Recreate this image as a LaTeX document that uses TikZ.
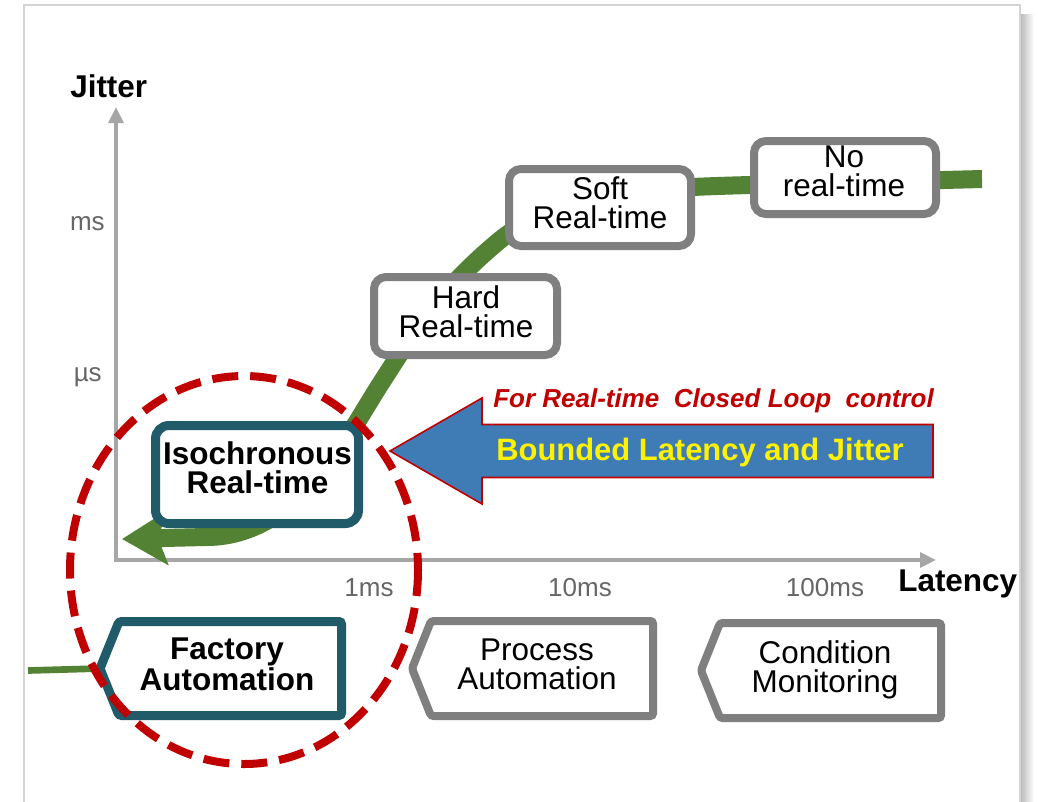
\documentclass[tikz,border=0pt]{standalone}
\usepackage{fontspec}
\setmainfont{Liberation Sans}
\usetikzlibrary{arrows.meta,calc}

\definecolor{curvegreen}{HTML}{548235}
\definecolor{tealdark}{HTML}{215A69}
\definecolor{boxgray}{HTML}{7F7F7F}
\definecolor{axisgray}{HTML}{A6A6A6}
\definecolor{ringred}{HTML}{C00000}
\definecolor{arrowblue}{HTML}{3F7CB6}
\definecolor{ticktext}{HTML}{666666}
\definecolor{framegray}{HTML}{D4D4D4}

\newcommand\stagefont{\fontsize{23.6pt}{21.8pt}\selectfont}
\newcommand\tickfont{\fontsize{19.5pt}{22pt}\selectfont}

\begin{document}
\begin{tikzpicture}[x=0.75pt,y=-0.75pt]
\tikzset{
  stagebox/.style={draw=boxgray, line width=6pt, rounded corners=9pt, fill=white, inner sep=0pt},
  isobox/.style={draw=tealdark, line width=6.75pt, rounded corners=10pt, fill=white, inner sep=0pt},
  stagetext/.style={align=center, inner sep=0pt, font=\stagefont},
  strongtext/.style={align=center, inner sep=0pt, font=\stagefont\bfseries},
  domaingray/.style={draw=boxgray, line width=6pt, rounded corners=2pt, fill=white},
  domainteal/.style={draw=tealdark, line width=6.75pt, rounded corners=2pt, fill=white},
  axisline/.style={draw=axisgray, line width=3pt, -{Triangle[length=12pt,width=11pt]}},
  axistitle/.style={inner sep=0pt, font=\fontsize{23.6pt}{26pt}\selectfont\bfseries},
  ticklabel/.style={inner sep=0pt, text=ticktext, font=\tickfont},
  curve/.style={draw=curvegreen, line width=13.5pt, -{Stealth[length=34pt,width=40pt,inset=7pt]}},
  ring/.style={draw=ringred, line width=6pt, dash pattern=on 19.5pt off 9pt},
  bigarrow/.style={fill=arrowblue, draw=ringred, line width=1.2pt, line join=miter}
}

\useasboundingbox (0,0) rectangle (1038,801);
\clip (0,0) rectangle (1038,801);
\fill[white] (0,0) rectangle (1038,801);

% slide frame with a soft shadow on its right side
\shade[left color=black!28, right color=white] (1020,14) rectangle (1034,801);
\draw[framegray, line width=1.2pt, fill=white] (24,5) rectangle (1020,830);

% axes
\coordinate (origin) at (116,561);
\coordinate (ytip) at (116,107);
\coordinate (xtip) at (936,560);
\draw[axisline] (116,562) -- (ytip);
\draw[axisline] (114,560) -- (xtip);

\node[axistitle, anchor=base west] (jitter) at (70,97) {Jitter};
\node[axistitle, anchor=base west] (latency) at (898,591) {Latency};
\node[ticklabel, anchor=base east] (tms) at (105,230) {ms};
\node[ticklabel, anchor=base east] (tus) at (102,381) {µs};
\node[ticklabel, anchor=base] (t1) at (369,596) {1ms};
\node[ticklabel, anchor=base] (t10) at (580,596) {10ms};
\node[ticklabel, anchor=base] (t100) at (825,596) {100ms};

% green trend curve running under the stage boxes
\coordinate (gstart) at (982,179);
\coordinate (gtip) at (122,539);
\draw[curve] (gstart) -- (750,185)
   .. controls (640,188) and (560,192) .. (500,240)
   .. controls (440,290) and (415,330) .. (383,380)
   .. controls (350,430) and (300,538) .. (205,537) -- (gtip);

% stage boxes
\node[stagebox, minimum width=136.5pt, minimum height=54.75pt] (nobox) at (845,177.5) {};
\node[stagetext] (notext) at (844,171) {No\\real-time};
\node[stagebox, minimum width=136.5pt, minimum height=57.75pt] (softbox) at (600,207.5) {};
\node[stagetext] (softtext) at (600,203) {Soft\\Real-time};
\node[stagebox, minimum width=137.25pt, minimum height=58.5pt] (hardbox) at (465.5,316) {};
\node[stagetext] (hardtext) at (466,312) {Hard\\Real-time};
\node[isobox, minimum width=152.25pt, minimum height=73.5pt] (isobox) at (257,474.5) {};
\node[strongtext] (isotext) at (257.5,468) {Isochronous\\Real-time};

% application domains
\coordinate (fatip) at (100,668.5);
\draw[curvegreen, line width=5pt] (28,670.5) -- (fatip);
\draw[domainteal] (fatip) -- (119,621.5) -- (341.5,621.5) -- (341.5,715.5) -- (119,715.5) -- cycle;
\node[strongtext] (fa) at (227,664) {Factory\\Automation};
\draw[domaingray] (412,668.5) -- (431,621) -- (653,621) -- (653,716) -- (431,716) -- cycle;
\node[stagetext] (pa) at (537,664) {Process\\Automation};
\draw[domaingray] (701,670.5) -- (720,623) -- (941,623) -- (941,718) -- (720,718) -- cycle;
\node[stagetext] (cm) at (825,669.5) {Condition\\Monitoring};

% dashed focus ring
\draw[ring] (244,570) ellipse [x radius=174, y radius=194];

% bounded latency arrow
\draw[bigarrow] (390,451) -- (482,398) -- (482,424.5) -- (933,424.5) -- (933,477.5)
   -- (482,477.5) -- (482,504) -- cycle;
\node[inner sep=0pt, anchor=base west, text=yellow,
      font=\fontsize{23.2pt}{26pt}\selectfont\bfseries] (bounded) at (496,460)
      {Bounded Latency and Jitter};
\node[inner sep=0pt, anchor=base west, text=ringred,
      font=\fontsize{19.5pt}{22pt}\selectfont\bfseries\itshape] (loop) at (493,407)
      {For Real-time\ \ Closed Loop\ \ control};
\end{tikzpicture}
\end{document}
